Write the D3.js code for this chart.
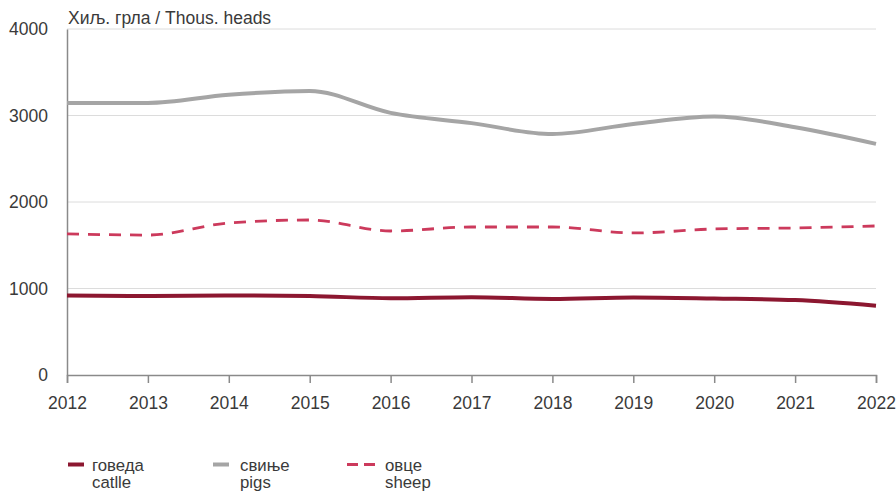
<!DOCTYPE html>
<html><head><meta charset="utf-8">
<script src="https://cdn.jsdelivr.net/npm/d3@7"></script>
<style>body{margin:0;background:#fff}svg{display:block}text{font-family:"Liberation Sans",Arial,sans-serif}</style>
</head><body><svg id="c" width="896" height="492"></svg>
<script>
const years = [2012,2013,2014,2015,2016,2017,2018,2019,2020,2021,2022];
const cattle = [918,913,919,913,887,900,879,896,884,866,801];
const pigs = [3145,3145,3240,3284,3030,2912,2786,2902,2988,2864,2672];
const sheep = [1632,1618,1757,1792,1665,1711,1711,1642,1688,1700,1723];
const yTicks = [0,1000,2000,3000,4000];
const unitLabel = "Хиљ. грла / Thous. heads";
const legendItems = [
  {sr:"говеда", en:"catlle", key:"cattle"},
  {sr:"свиње", en:"pigs", key:"pigs"},
  {sr:"овце", en:"sheep", key:"sheep"}
];
const styles = {
  cattle:{color:"#8c1730", width:4, dash:null},
  pigs:{color:"#a5a5a5", width:4, dash:null},
  sheep:{color:"#cc3a5c", width:2.8, dash:"12,9"}
};
const FS = 17.5;
const svg = d3.select("#c");
const x = d3.scaleLinear().domain([2012,2022]).range([67,876]);
const y = d3.scaleLinear().domain([0,4000]).range([375,29]);

// gridlines
svg.append("g").selectAll("line").data(yTicks.filter(d=>d>0)).join("line")
  .attr("x1",67).attr("x2",876).attr("y1",d=>y(d)).attr("y2",d=>y(d))
  .attr("stroke","#dcdcdc").attr("stroke-width",1);

// y axis
const ya = svg.append("g").attr("transform","translate(67,0)")
  .call(d3.axisLeft(y).tickValues(yTicks).tickSize(0).tickPadding(19).tickFormat(d3.format("d")));
ya.select(".domain").attr("stroke","#8a8a8a").attr("stroke-width",1.5);
ya.selectAll("text").attr("font-size",FS).attr("fill","#3a3a3a");

// x axis
const xa = svg.append("g").attr("transform","translate(0,375)")
  .call(d3.axisBottom(x).tickValues(years).tickSize(8).tickPadding(13.5).tickFormat(d3.format("d")));
xa.select(".domain").attr("stroke","#8a8a8a").attr("stroke-width",1.5);
xa.selectAll(".tick line").attr("stroke","#8a8a8a").attr("stroke-width",1.5);
xa.selectAll("text").attr("font-size",FS).attr("fill","#3a3a3a");

svg.append("text").attr("x",68).attr("y",24).attr("font-size",FS).attr("fill","#3a3a3a").text(unitLabel);

const line = d3.line().x((d,i)=>x(years[i])).y(d=>y(d)).curve(d3.curveMonotoneX);
const series = {cattle, pigs, sheep};
["pigs","sheep","cattle"].forEach(k=>{
  const s = styles[k];
  svg.append("path").datum(series[k]).attr("d",line).attr("fill","none")
    .attr("stroke",s.color).attr("stroke-width",s.width)
    .attr("stroke-dasharray",s.dash).attr("stroke-linejoin","round");
});

// legend
const legX = [{lx1:68,lx2:84,tx:92},{lx1:213,lx2:229,tx:240},{lx1:347,lx2:376,tx:385}];
legendItems.forEach((it,i)=>{
  const s = styles[it.key], p = legX[i];
  svg.append("line").attr("x1",p.lx1).attr("x2",p.lx2).attr("y1",464.5).attr("y2",464.5)
    .attr("stroke",s.color).attr("stroke-width",s.width).attr("stroke-dasharray",it.key==="sheep"?"11,6":null);
  const t = svg.append("text").attr("x",p.tx).attr("y",470.7).attr("font-size",16.8).attr("fill","#3a3a3a");
  t.append("tspan").attr("x",p.tx).attr("y",470.7).text(it.sr);
  t.append("tspan").attr("x",p.tx).attr("y",488.3).text(it.en);
});
</script></body></html>
